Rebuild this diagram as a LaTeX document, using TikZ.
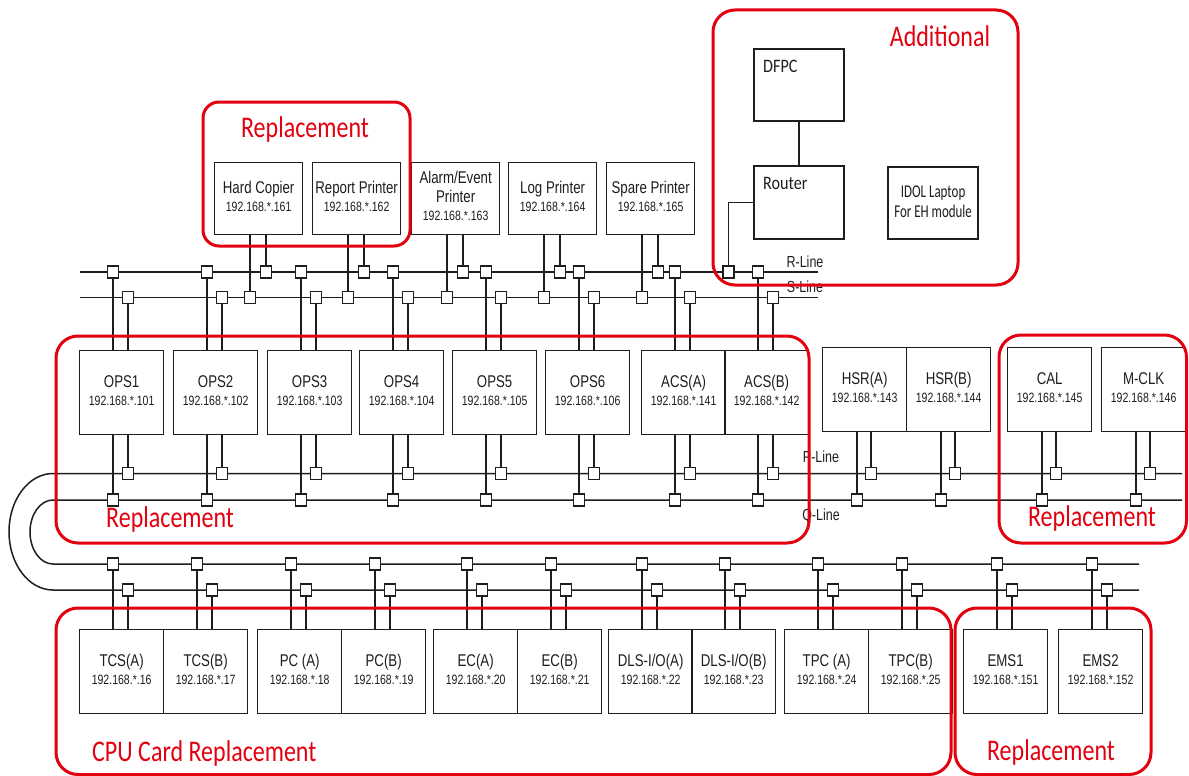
\documentclass[tikz,border=0pt]{standalone}
\usepackage{fontspec}
\usepackage{graphicx}
\setmainfont{Liberation Sans}
\newfontfamily\calib{Carlito}
\definecolor{ink}{HTML}{1E1E1E}
\definecolor{redmark}{HTML}{E3000F}
\newcommand{\ipfont}{\fontsize{13.5}{18.5}\selectfont}
\newcommand{\dev}[2]{\scalebox{.78}[1]{\begin{tabular}{@{}c@{}}#1\\\ipfont #2\end{tabular}}}
\newcommand{\redlbl}[1]{\scalebox{.8}[1]{\calib\fontsize{30}{30}\selectfont #1}}
\tikzset{
 unit/.style={draw=ink,line width=1.3pt,text=ink,font=\fontsize{17}{18.5}\selectfont,inner sep=0pt,anchor=north west,minimum width=84pt,minimum height=84pt},
 tap/.style={draw=ink,line width=1.2pt,fill=white,minimum width=11pt,minimum height=12pt,inner sep=0pt},
 bus/.style={draw=ink,line width=1.5pt},
 drop/.style={draw=ink,line width=1.1pt},
 ring/.style={draw=redmark,line width=3pt,rounded corners=22pt},
 redtext/.style={text=redmark,inner sep=0pt},
 linetext/.style={text=ink,font=\fontsize{16}{16}\selectfont,inner sep=0pt},
 addbox/.style={draw=ink,line width=2.2pt,anchor=north west,inner sep=0pt,minimum width=90pt,minimum height=72pt},
 corner/.style={label={[anchor=north west,inner sep=0pt,xshift=10pt,yshift=-12pt,text=ink,font=\calib\fontsize{19}{19}\selectfont]north west:\scalebox{.85}[1]{#1}}}
}
\begin{document}
\begin{tikzpicture}[x=1pt,y=-1pt]
\fill[white] (0,0) rectangle (1189,776); \useasboundingbox (0,0) rectangle (1189,776);
\coordinate (r0) at (80,272); \coordinate (r1) at (818,272); \coordinate (s0) at (80,297.5); \coordinate (s1) at (818,297.5);
\coordinate (p0) at (53,473.5); \coordinate (p1) at (1182,473.5); \coordinate (q0) at (53,500); \coordinate (q1) at (1182,500);
\coordinate (u1) at (1139,564); \coordinate (l1) at (1139,590);
\draw[bus] (r0)--(r1); \draw[bus] (s0)--(s1);
\draw[bus] (p1)--(p0) arc[start angle=90,end angle=270,x radius=44pt,y radius=58.25pt]--(l1);
\draw[bus] (q1)--(q0) arc[start angle=90,end angle=270,x radius=23pt,y radius=32pt]--(u1);
\node[linetext] (rlbl) at (805,262) {\scalebox{.78}[1]{R-Line}}; \node[linetext] (slbl) at (805,287) {\scalebox{.78}[1]{S-Line}};
\node[linetext] (plbl) at (821,457) {\scalebox{.78}[1]{P-Line}}; \node[linetext] (qlbl) at (821,516) {\scalebox{.78}[1]{Q-Line}};
\foreach \n/\x/\nm/\ip in {copier/214/Hard Copier/161,report/312/Report Printer/162,alarm/411/{Alarm/Event\\Printer}/163,log/508/Log Printer/164,spare/606/Spare Printer/165}{
 \node[unit,minimum width=88pt,minimum height=72pt] (\n) at (\x,162) {\dev{\nm}{192.168.*.\ip}};
 \node[tap] (\n-s) at (\x+36,297.5) {}; \node[tap] (\n-r) at (\x+52,272) {};
 \draw[drop] (\n-s)--(\n-s |- \n.south) (\n-r)--(\n-r |- \n.south);
}
\foreach \n/\x/\nm/\ip in {ops1/79/OPS1/101,ops2/173/OPS2/102,ops3/267/OPS3/103,ops4/359/OPS4/104,ops5/452/OPS5/105,ops6/545/OPS6/106,acsa/641/ACS(A)/141,acsb/724/ACS(B)/142}{
 \node[unit] (\n) at (\x,350) {\dev{\nm}{192.168.*.\ip}};
 \node[tap] (\n-r) at (\x+34,272) {}; \node[tap] (\n-s) at (\x+49,297.5) {};
 \node[tap] (\n-q) at (\x+34,500) {}; \node[tap] (\n-p) at (\x+49,473.5) {};
 \draw[drop] (\n-r)--(\n-r |- \n.north) (\n-s)--(\n-s |- \n.north) (\n-q)--(\n-q |- \n.south) (\n-p)--(\n-p |- \n.south);
}
\foreach \n/\x/\nm/\ip in {hsra/822/HSR(A)/143,hsrb/906/HSR(B)/144,cal/1007/CAL/145,mclk/1101/M-CLK/146}{
 \node[unit] (\n) at (\x,347) {\dev{\nm}{192.168.*.\ip}};
 \node[tap] (\n-q) at (\x+35,500) {}; \node[tap] (\n-p) at (\x+49,473.5) {};
 \draw[drop] (\n-q)--(\n-q |- \n.south) (\n-p)--(\n-p |- \n.south);
}
\foreach \n/\x/\nm/\ip in {tcsa/79/TCS(A)/16,tcsb/163/TCS(B)/17,pca/257/PC (A)/18,pcb/341/PC(B)/19,eca/433/EC(A)/20,ecb/517/EC(B)/21,dlsa/608/{DLS-I/O(A)}/22,dlsb/691/{DLS-I/O(B)}/23,tpca/784/TPC (A)/24,tpcb/868/TPC(B)/25,ems1/963/EMS1/151,ems2/1058/EMS2/152}{
 \node[unit] (\n) at (\x,629) {\dev{\nm}{192.168.*.\ip}};
 \node[tap] (\n-u) at (\x+34,564) {}; \node[tap] (\n-l) at (\x+49,590) {};
 \draw[drop] (\n-u)--(\n-u |- \n.north) (\n-l)--(\n-l |- \n.north);
}
\node[addbox,corner=DFPC] (dfpc) at (753,48) {};
\node[addbox,corner=Router,minimum height=73pt] (router) at (753,165) {};
\node[addbox,text=ink,font=\calib\fontsize{18}{20}\selectfont] (idol) at (887,166) {\scalebox{.72}[1]{\begin{tabular}{@{}c@{}}IDOL Laptop\\For EH module\end{tabular}}};
\draw[ink,line width=1.3pt] (dfpc)--(router);
\node[tap] (rt-r) at (728.5,272) {};
\draw[ink,line width=1.6pt] (rt-r) |- (router.west);
\draw[ring,rounded corners=16pt] (203,102) rectangle (410,246);
\draw[ring] (713,10) rectangle (1018,285);
\draw[ring] (56,336) rectangle (809,543);
\draw[ring] (999,335) rectangle (1186.5,543);
\draw[ring] (56,608) rectangle (951,774.5);
\draw[ring] (955,608) rectangle (1151,774.5);
\node[redtext] (repl1) at (305,130) {\redlbl{Replacement}};
\node[redtext] (addl) at (940,36) {\redlbl{Additional}};
\node[redtext,anchor=west] (repl2) at (106,519) {\redlbl{Replacement}};
\node[redtext] (repl3) at (1092,518) {\redlbl{Replacement}};
\node[redtext,anchor=west] (cpu) at (92,753) {\redlbl{CPU Card Replacement}};
\node[redtext] (repl4) at (1051,752) {\redlbl{Replacement}};
\end{tikzpicture}
\end{document}
